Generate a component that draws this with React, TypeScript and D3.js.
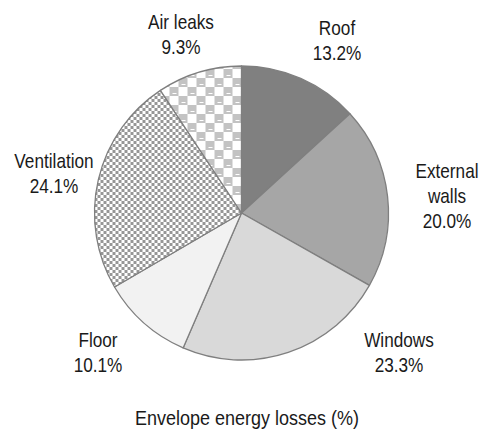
import React from "react";
import * as d3 from "d3";

const categories = ["Roof", "External walls", "Windows", "Floor", "Ventilation", "Air leaks"];
const values = [13.2, 20.0, 23.3, 10.1, 24.1, 9.3];
const labelLines = [["Roof"], ["External", "walls"], ["Windows"], ["Floor"], ["Ventilation"], ["Air leaks"]];
const title = "Envelope energy losses (%)";

// layout
const W = 482, H = 435;
const cx = 241.5, cy = 213, R = 147;
const fills = ["#808080", "#a6a6a6", "#d9d9d9", "#f2f2f2", "url(#smallChecker)", "url(#largeChecker)"];
const labelAnchors: [number, number][] = [
  [337, 35], [447, 178], [399, 347], [98, 347], [54, 168], [181, 29],
];
const lineGap = 25;
const sx = 0.86;

export default function App() {
  const pie = d3.pie<number>().sort(null).value((d) => d);
  const arcs = pie(values);
  const arc = d3.arc<d3.PieArcDatum<number>>().innerRadius(0).outerRadius(R);
  const fmt = d3.format(".1f");

  return (
    <svg width={W} height={H} style={{ position: "absolute", left: 0, top: 0, background: "#fff" }}
      fontFamily="'Liberation Sans', Arial, sans-serif">
      <defs>
        <pattern id="smallChecker" patternUnits="userSpaceOnUse" width={6} height={6}>
          <rect width={6} height={6} fill="#ffffff" />
          <rect x={0} y={0} width={3} height={3} fill="#969696" />
          <rect x={3} y={3} width={3} height={3} fill="#969696" />
        </pattern>
        <pattern id="largeChecker" patternUnits="userSpaceOnUse" width={18} height={18}>
          <rect width={18} height={18} fill="#ffffff" />
          <rect x={0} y={0} width={9} height={9} fill="#c3c3c3" />
          <rect x={9} y={9} width={9} height={9} fill="#c3c3c3" />
          <rect x={3} y={6} width={4} height={1} fill="#ffffff" />
          <rect x={12} y={15} width={4} height={1} fill="#ffffff" />
        </pattern>
      </defs>
      <g transform={`translate(${cx},${cy})`}>
        {arcs.map((a, i) => (
          <path key={categories[i]} d={arc(a) || ""} fill={fills[i]} stroke="#7f7f7f" strokeWidth={1.3} strokeLinejoin="round" />
        ))}
      </g>
      {arcs.map((a, i) => {
        const [x, y] = labelAnchors[i];
        const lines = [...labelLines[i], fmt(values[i]) + "%"];
        return (
          <g key={"l" + i}>
            {lines.map((t, j) => (
              <text key={j} transform={`translate(${x},${y + j * lineGap}) scale(${sx},1)`}
                textAnchor="middle" fontSize={20} fill="#1a1a1a">{t}</text>
            ))}
          </g>
        );
      })}
      <text transform={`translate(247,425) scale(0.9,1)`} textAnchor="middle" fontSize={20} fill="#1a1a1a">{title}</text>
    </svg>
  );
}
